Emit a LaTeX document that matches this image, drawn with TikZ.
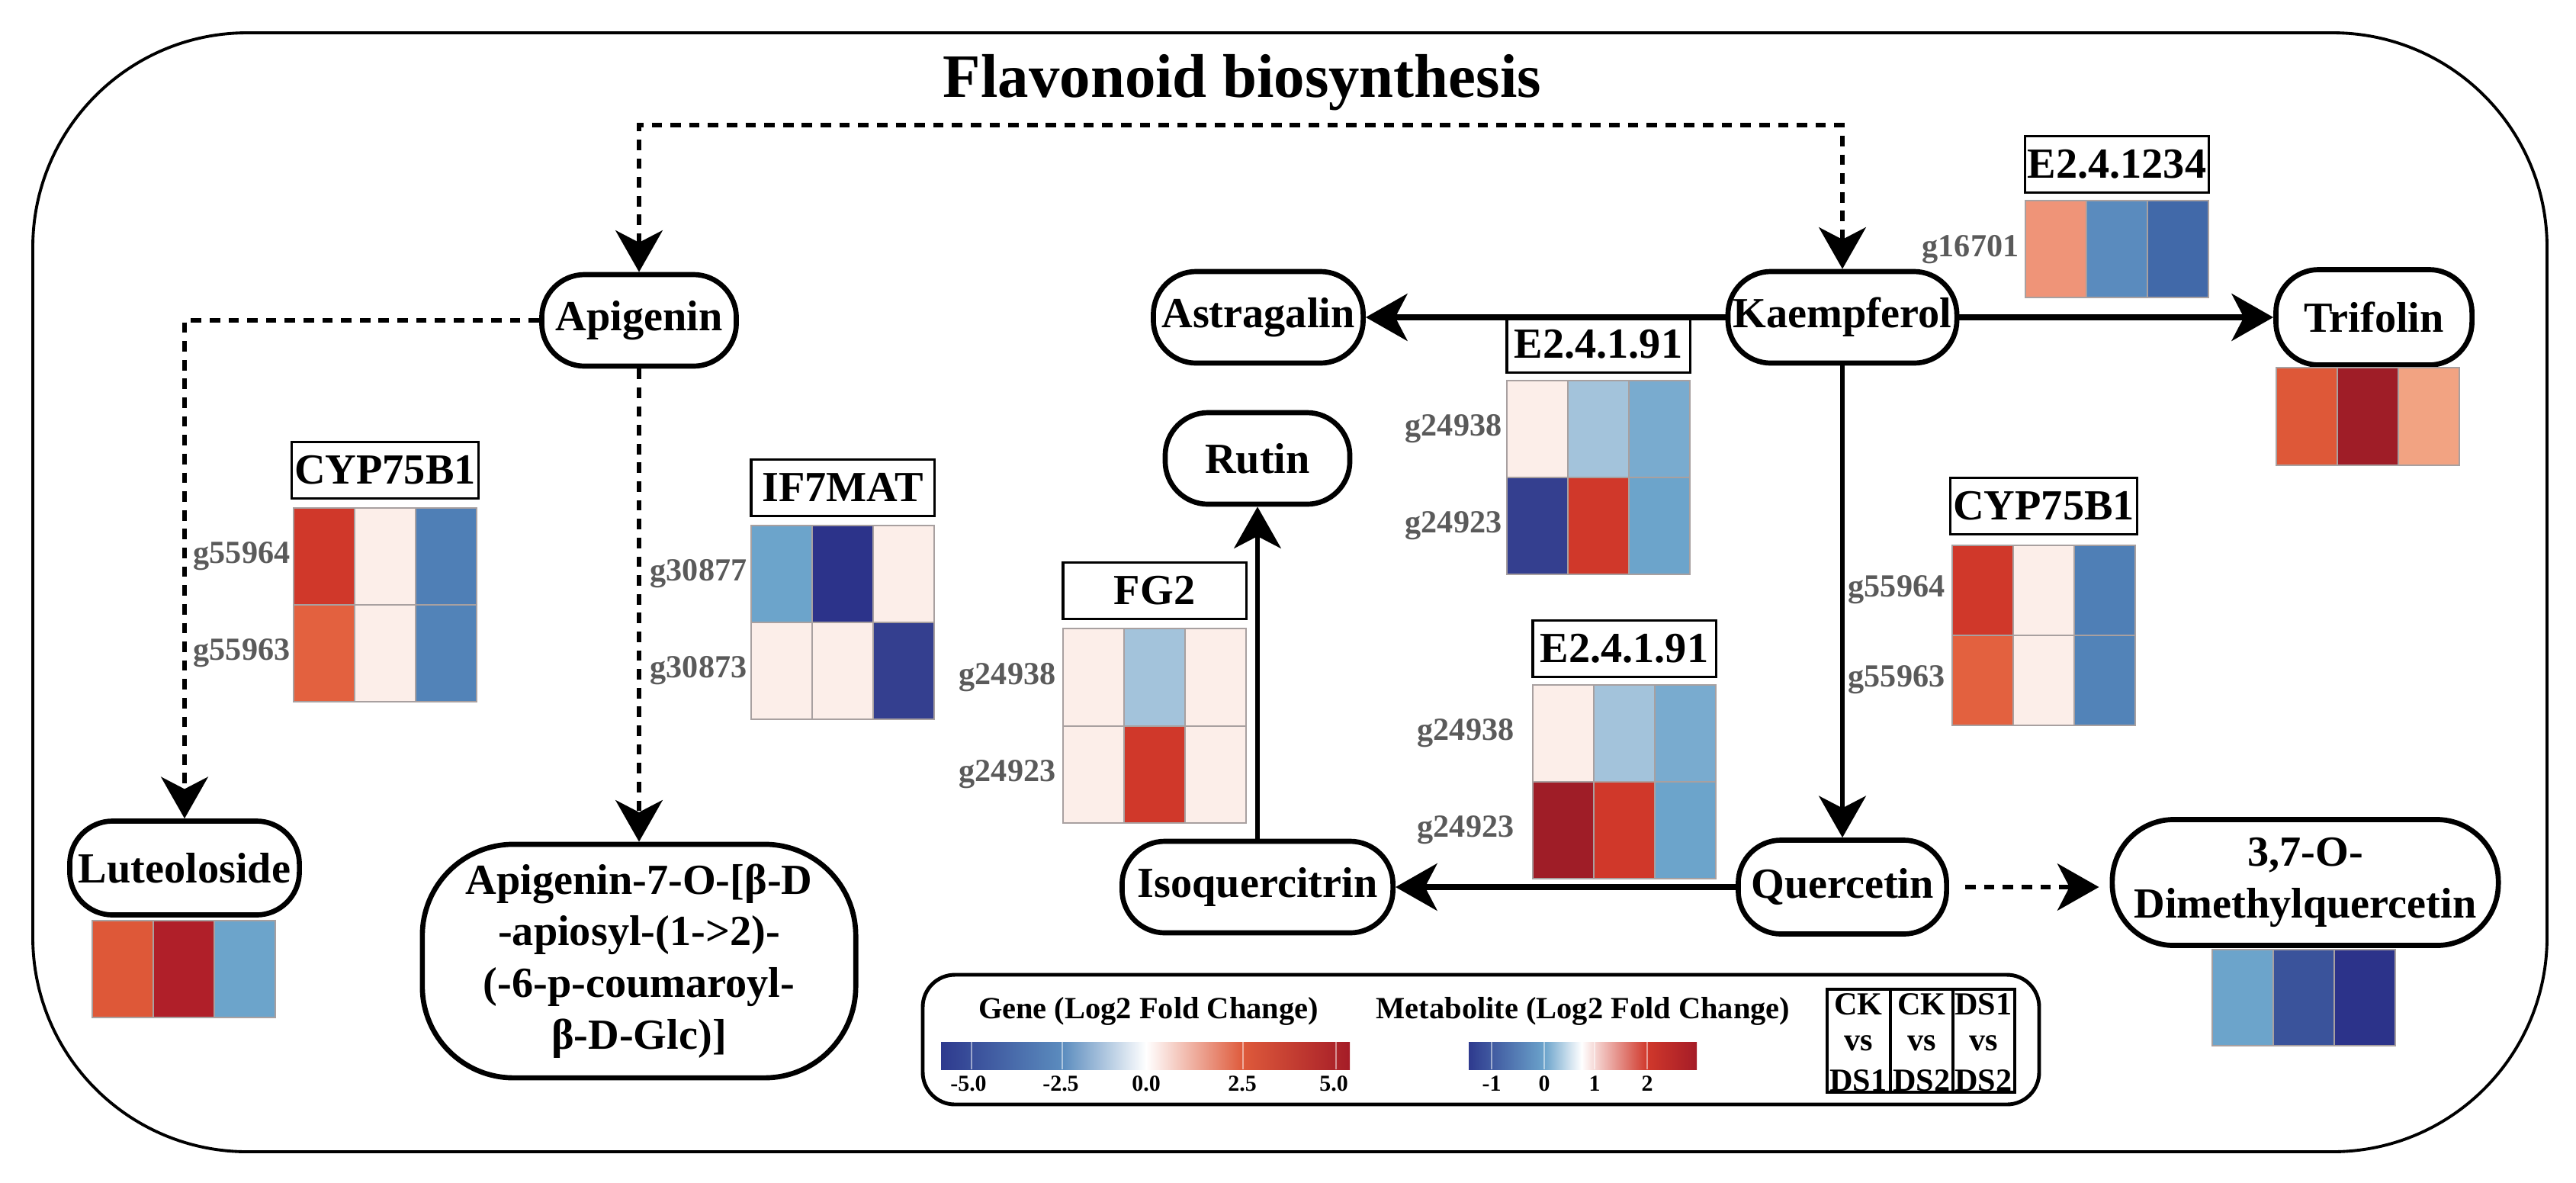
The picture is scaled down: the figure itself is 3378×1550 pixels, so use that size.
\documentclass[tikz,border=0pt]{standalone}
\usepackage{fontspec}
\setmainfont{Liberation Serif}
\usetikzlibrary{arrows.meta,positioning,calc}

\definecolor{genegray}{HTML}{5A5A5A}
\definecolor{cellgray}{HTML}{A8A0A0}
\definecolor{hmPale}{HTML}{FCEEE9}
\definecolor{hmRed}{HTML}{D0382A}
\definecolor{hmOrange}{HTML}{E3613F}
\definecolor{hmDeep}{HTML}{9F1D27}
\definecolor{hmCrimson}{HTML}{B01F29}
\definecolor{hmVermil}{HTML}{DE5838}
\definecolor{hmSalmon}{HTML}{EF9478}
\definecolor{hmPeach}{HTML}{F2A382}
\definecolor{hmSky}{HTML}{A3C3DB}
\definecolor{hmCyan}{HTML}{79ABCF}
\definecolor{hmSteel}{HTML}{6CA4CB}
\definecolor{hmBlue}{HTML}{4F7FB6}
\definecolor{hmBlueB}{HTML}{5283B8}
\definecolor{hmCobalt}{HTML}{5A8BBE}
\definecolor{hmRoyal}{HTML}{4169A9}
\definecolor{hmIndigo}{HTML}{3A539B}
\definecolor{hmNavy}{HTML}{2C338A}
\definecolor{hmDkBlue}{HTML}{343F8F}
\definecolor{cbNavy}{HTML}{2E3A8E}
\definecolor{cbBlue}{HTML}{5B8CBE}
\definecolor{cbSky}{HTML}{6BA3CB}
\definecolor{cbOrange}{HTML}{DE5A3B}
\definecolor{cbRed}{HTML}{D0382B}
\definecolor{cbDark}{HTML}{A51C27}
\definecolor{cbPeach}{HTML}{F4A383}

\newcommand{\nodefont}{\fontsize{16}{19.3}\selectfont\bfseries}
% one row of three cells: top-left x, top-left y, row height, colours
\newcommand{\hmrow}[4]{%
  \foreach \hc [count=\hi from 0] in {#4}
    \filldraw[cell,fill=\hc] ({#1+80*\hi},#2) rectangle ++(80,#3);%
}

\tikzset{
  >={Stealth[length=15.5pt,width=17.5pt,inset=4.5pt]},
  frame/.style={line width=1.1pt,rounded corners=80pt},
  metab/.style={draw,line width=1.9pt,rounded corners=16pt,align=center,
    inner sep=1pt,minimum height=1.2cm,font=\nodefont},
  enzyme/.style={draw,line width=0.9pt,minimum width=2.4cm,
    minimum height=0.74cm,inner sep=1pt,font=\nodefont},
  gene/.style={anchor=east,inner sep=0pt,text=genegray,
    font=\fontsize{12}{14}\selectfont\bfseries},
  cell/.style={draw=cellgray,line width=0.4pt},
  flow/.style={->,line width=2.3pt},
  flowv/.style={->,line width=1.8pt},
  flowdash/.style={->,line width=1.7pt,dash pattern=on 3.9pt off 3.1pt},
  legtext/.style={font=\fontsize{11.5}{13}\selectfont\bfseries,inner sep=0pt},
  tickl/.style={font=\fontsize{8.5}{10}\selectfont\bfseries,inner sep=0pt},
  cmptext/.style={font=\fontsize{12}{14}\selectfont\bfseries,inner sep=0pt}
}

\begin{document}
\begin{tikzpicture}[x=0.01cm,y=-0.01cm]
  \useasboundingbox (0,0) rectangle (3378,1550);
  \draw[frame] (43,43) rectangle (3340,1510);
  \node[font=\fontsize{23}{27}\selectfont\bfseries] (title) at (1629,108) {Flavonoid biosynthesis};

  % compounds
  \node[metab,minimum width=2.55cm] (apigenin) at (838,420) {Apigenin};
  \node[metab,minimum width=2.75cm] (astragalin) at (1650,416) {Astragalin};
  \node[metab,minimum width=3cm] (kaempferol) at (2416,416) {Kaempferol};
  \node[metab,minimum width=2.57cm,minimum height=1.25cm] (trifolin) at (3113,416) {Trifolin};
  \node[metab,minimum width=2.42cm] (rutin) at (1649,601) {Rutin};
  \node[metab,minimum width=3.55cm] (isoquercitrin) at (1649,1163) {Isoquercitrin};
  \node[metab,minimum width=2.73cm,minimum height=1.23cm] (quercetin) at (2416,1163) {Quercetin};
  \node[metab,minimum width=5.06cm,minimum height=1.65cm,rounded corners=23pt] (dimethyl) at (3023,1157) {3,7-O-\\Dimethylquercetin};
  \node[metab,minimum width=3.01cm,minimum height=1.23cm] (luteoloside) at (242,1138) {Luteoloside};
  \node[metab,minimum width=5.68cm,minimum height=3.06cm,rounded corners=34pt] (apig7) at (838,1260)
    {Apigenin-7-O-[β-D\\-apiosyl-(1->2)-\\(-6-p-coumaroyl-\\β-D-Glc)]};

  % reactions
  \coordinate (topbend) at (1600,164);
  \draw[flowdash,<->] (apigenin.north) |- (topbend) -| (kaempferol.north);
  \draw[flowdash] (apigenin.west) -| (luteoloside.north);
  \draw[flowdash] (apigenin.south) -- (apig7.north);
  \draw[flow] (kaempferol.west) -- (astragalin.east);
  \draw[flow] (kaempferol.east) -- (trifolin.west);
  \draw[flowv] (kaempferol.south) -- (quercetin.north);
  \draw[flow] (quercetin.west) -- (isoquercitrin.east);
  \draw[flowv] (isoquercitrin.north) -- (rutin.south);
  \draw[flowdash,shorten <=6pt,shorten >=4pt] (quercetin.east) -- (quercetin.east -| dimethyl.west);

  % CYP75B1, apigenin side
  \coordinate (cypLhm) at (505,666);
  \node[enzyme,above=0.11cm of cypLhm] (cypL) {CYP75B1};
  \hmrow{385}{666}{127}{hmRed,hmPale,hmBlue}
  \hmrow{385}{793}{127}{hmOrange,hmPale,hmBlueB}
  \node[gene] (cypLg1) at (381,729) {g55964};
  \node[gene] (cypLg2) at (381,856) {g55963};

  % IF7MAT
  \coordinate (ifhm) at (1105,689);
  \node[enzyme,above=0.11cm of ifhm] (if7mat) {IF7MAT};
  \hmrow{985}{689}{127}{hmSteel,hmNavy,hmPale}
  \hmrow{985}{816}{127}{hmPale,hmPale,hmDkBlue}
  \node[gene] (ifg1) at (980,752) {g30877};
  \node[gene] (ifg2) at (980,879) {g30873};

  % FG2
  \coordinate (fghm) at (1514,824);
  \node[enzyme,above=0.11cm of fghm] (fg2) {FG2};
  \hmrow{1394}{824}{128}{hmPale,hmSky,hmPale}
  \hmrow{1394}{952}{127}{hmPale,hmRed,hmPale}
  \node[gene] (fgg1) at (1385,888) {g24938};
  \node[gene] (fgg2) at (1385,1015) {g24923};

  % E2.4.1.91, kaempferol side
  \coordinate (eAhm) at (2096,499);
  \node[enzyme,above=0.09cm of eAhm] (eA) {E2.4.1.91};
  \hmrow{1976}{499}{127}{hmPale,hmSky,hmCyan}
  \hmrow{1976}{626}{127}{hmDkBlue,hmRed,hmSteel}
  \node[gene] (eAg1) at (1970,562) {g24938};
  \node[gene] (eAg2) at (1970,689) {g24923};

  % E2.4.1.91, quercetin side
  \coordinate (eBhm) at (2130,898);
  \node[enzyme,above=0.09cm of eBhm] (eB) {E2.4.1.91};
  \hmrow{2010}{898}{127}{hmPale,hmSky,hmCyan}
  \hmrow{2010}{1025}{127}{hmDeep,hmRed,hmSteel}
  \node[gene] (eBg1) at (1986,961) {g24938};
  \node[gene] (eBg2) at (1986,1088) {g24923};

  % CYP75B1, kaempferol side
  \coordinate (cypRhm) at (2680,715);
  \node[enzyme,above=0.13cm of cypRhm] (cypR) {CYP75B1};
  \hmrow{2560}{715}{118}{hmRed,hmPale,hmBlue}
  \hmrow{2560}{833}{118}{hmOrange,hmPale,hmBlueB}
  \node[gene] (cypRg1) at (2551,773) {g55964};
  \node[gene] (cypRg2) at (2551,891) {g55963};

  % E2.4.1234
  \coordinate (eChm) at (2776,263);
  \node[enzyme,above=0.09cm of eChm] (eC) {E2.4.1234};
  \hmrow{2656}{263}{127}{hmSalmon,hmCobalt,hmRoyal}
  \node[gene] (eCg1) at (2648,327) {g16701};

  % compound levels
  \hmrow{2985}{482}{128}{hmVermil,hmDeep,hmPeach}
  \hmrow{121}{1207}{127}{hmVermil,hmCrimson,hmSteel}
  \hmrow{2901}{1245}{126}{hmSteel,hmIndigo,hmNavy}

  % legend
  \draw[line width=1.4pt,rounded corners=12pt] (1210,1278) rectangle (2674,1448);
  \node[legtext] (genelab) at (1506,1326) {Gene (Log2 Fold Change)};
  \node[legtext] (metlab) at (2076,1326) {Metabolite (Log2 Fold Change)};
  \shade[left color=cbNavy,right color=cbBlue] (1234,1366) rectangle (1393,1402);
  \shade[left color=cbBlue,middle color=cbSky!70!white,right color=white] (1393,1366) rectangle (1503,1402);
  \shade[left color=white,middle color=cbPeach,right color=cbOrange] (1503,1366) rectangle (1630,1402);
  \shade[left color=cbOrange,right color=cbDark] (1630,1366) rectangle (1770,1402);
  \shade[left color=cbNavy,right color=cbSky] (1926,1366) rectangle (2025,1402);
  \shade[left color=cbSky,right color=white] (2025,1366) rectangle (2074,1402);
  \shade[left color=white,middle color=cbPeach,right color=cbRed] (2074,1366) rectangle (2160,1402);
  \shade[left color=cbRed,right color=cbDark] (2160,1366) rectangle (2225,1402);
  \foreach \tx in {1274,1393,1630,1752,1956,2025,2091,2160}
    \draw[white,opacity=0.5,line width=0.5pt] (\tx,1366) -- (\tx,1402);
  \foreach \tx/\tl [count=\k] in {1270/-5.0,1391/-2.5,1503/0.0,1629/2.5,1749/5.0}
    \node[tickl] (gt\k) at (\tx,1421) {\tl};
  \foreach \tx/\tl [count=\k] in {1956/-1,2025/0,2091/1,2160/2}
    \node[tickl] (mt\k) at (\tx,1421) {\tl};
  \draw[line width=0.9pt] (2396,1297) rectangle (2642,1432);
  \draw[line width=0.9pt] (2479,1297) -- (2479,1432) (2561,1297) -- (2561,1432);
  \foreach \cx/\ta/\tb [count=\k] in {2437/CK/DS1,2520/CK/DS2,2601/DS1/DS2}{
    \node[cmptext] (ca\k) at (\cx,1317) {\ta};
    \node[cmptext] (cv\k) at (\cx,1368) {vs};
    \node[cmptext] (cb\k) at (\cx,1417) {\tb};
  }
\end{tikzpicture}
\end{document}
